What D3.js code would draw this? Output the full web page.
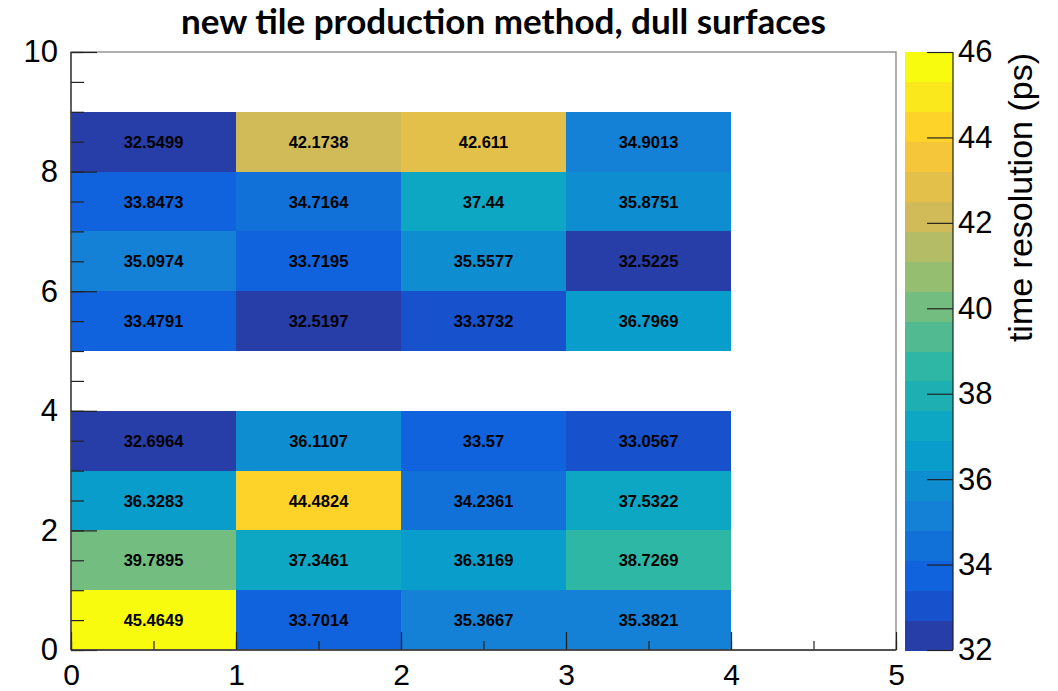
<!DOCTYPE html>
<html>
<head>
<meta charset="utf-8">
<script src="https://cdn.jsdelivr.net/npm/d3@7"></script>
<style>
  html, body { margin: 0; padding: 0; background: #fff; }
  svg { display: block; }
</style>
</head>
<body>
<svg id="chart" width="1058" height="691"></svg>
<script>
// Bin edges along each axis
const xEdges = [0, 1, 2, 3, 4];
const yEdges = [0, 1, 2, 3, 5, 6, 7, 8];

// Time resolution (ps) per tile, one row per y bin (lower edge above)
const row0 = [45.4649, 33.7014, 35.3667, 35.3821];
const row1 = [39.7895, 37.3461, 36.3169, 38.7269];
const row2 = [36.3283, 44.4824, 34.2361, 37.5322];
const row3 = [32.6964, 36.1107, 33.57, 33.0567];
const row5 = [33.4791, 32.5197, 33.3732, 36.7969];
const row6 = [35.0974, 33.7195, 35.5577, 32.5225];
const row7 = [33.8473, 34.7164, 37.44, 35.8751];
const row8 = [32.5499, 42.1738, 42.611, 34.9013];
const rows = [row0, row1, row2, row3, row5, row6, row7, row8];

// Axis ticks
const xTicks = [0, 1, 2, 3, 4, 5];
const yTicks = [0, 2, 4, 6, 8, 10];
const zTicks = [32, 34, 36, 38, 40, 42, 44, 46];

// Colour scale range and number of contour bands
const zRange = [32, 46];
const nBands = 20;

// Bird palette stops
const birdStops = [0, 0.125, 0.25, 0.375, 0.5, 0.625, 0.75, 0.875, 1];
const birdR = [0.2082, 0.0592, 0.0780, 0.0232, 0.1802, 0.5301, 0.8186, 0.9956, 0.9764];
const birdG = [0.1664, 0.3599, 0.5041, 0.6419, 0.7178, 0.7492, 0.7328, 0.7862, 0.9832];
const birdB = [0.5293, 0.8684, 0.8385, 0.7914, 0.6425, 0.4662, 0.3499, 0.1968, 0.0539];

const palR = d3.scaleLinear().domain(birdStops).range(birdR);
const palG = d3.scaleLinear().domain(birdStops).range(birdG);
const palB = d3.scaleLinear().domain(birdStops).range(birdB);
const nColors = 255;
function bandColor(i) {
  const k = Math.floor((i + 0.99) * nColors / nBands);
  const t = k / (nColors - 1);
  return d3.rgb(palR(t) * 255, palG(t) * 255, palB(t) * 255).formatHex();
}
const bandWidth = (zRange[1] - zRange[0]) / nBands;
function colorOf(v) {
  let i = Math.floor((v - zRange[0]) / bandWidth + 0.0001);
  i = Math.max(0, Math.min(nBands - 1, i));
  return bandColor(i);
}

const svg = d3.select("#chart");
const plotLeft = 71, plotRight = 896, plotTop = 52, plotBottom = 650;

const x = d3.scaleLinear().domain([0, 5]).range([plotLeft, plotRight]);
const y = d3.scaleLinear().domain([0, 10]).range([plotBottom, plotTop]);

// Cells
const cells = [];
rows.forEach((r, j) => r.forEach((v, i) => cells.push({ x0: xEdges[i], y0: yEdges[j], v })));

const g = svg.append("g");
g.selectAll("rect.cell").data(cells).enter().append("rect")
  .attr("class", "cell")
  .attr("x", d => x(d.x0))
  .attr("y", d => y(d.y0 + 1))
  .attr("width", d => x(d.x0 + 1) - x(d.x0))
  .attr("height", d => y(d.y0) - y(d.y0 + 1))
  .attr("fill", d => colorOf(d.v))
  .attr("shape-rendering", "crispEdges");

g.selectAll("text.val").data(cells).enter().append("text")
  .attr("class", "val")
  .attr("x", d => x(d.x0 + 0.5))
  .attr("y", d => y(d.y0 + 0.5))
  .attr("text-anchor", "middle")
  .attr("dominant-baseline", "central")
  .attr("font-family", "'Liberation Sans', Arial, sans-serif")
  .attr("font-weight", "bold")
  .attr("font-size", 16.5)
  .attr("fill", "#000")
  .text(d => d.v);

// Frame (top / right)
svg.append("rect")
  .attr("x", plotLeft).attr("y", plotTop)
  .attr("width", plotRight - plotLeft).attr("height", plotBottom - plotTop)
  .attr("fill", "none").attr("stroke", "#7a7a7a").attr("stroke-width", 1.2);

const axisFont = "'Liberation Sans', Arial, sans-serif";
function styleAxis(sel, size) {
  sel.select(".domain").remove();
  sel.selectAll(".tick line").attr("stroke", "#222").attr("stroke-width", 1.2);
  sel.selectAll("text").attr("font-family", axisFont).attr("font-size", size).attr("fill", "#000");
}

// Y axis: minor and major ticks pointing inward
const yMinor = svg.append("g").attr("transform", `translate(${plotLeft},0)`)
  .call(d3.axisLeft(y).tickValues(d3.range(0, 10.01, 0.5)).tickSize(-13).tickFormat(""));
styleAxis(yMinor, 0);
const yMajor = svg.append("g").attr("transform", `translate(${plotLeft},0)`)
  .call(d3.axisLeft(y).tickValues(yTicks).tickSize(-26).tickPadding(13).tickFormat(d3.format("d")));
styleAxis(yMajor, 31);

// X axis
const xMinor = svg.append("g").attr("transform", `translate(0,${plotBottom})`)
  .call(d3.axisBottom(x).tickValues(d3.range(0, 5.01, 0.5)).tickSize(-9).tickFormat(""));
styleAxis(xMinor, 0);
const xMajor = svg.append("g").attr("transform", `translate(0,${plotBottom})`)
  .call(d3.axisBottom(x).tickValues(xTicks).tickSize(-18).tickPadding(14).tickFormat(d3.format("d")));
styleAxis(xMajor, 30);

// Axis lines on left and bottom
svg.append("line").attr("x1", plotLeft).attr("x2", plotLeft).attr("y1", plotTop).attr("y2", plotBottom)
  .attr("stroke", "#333").attr("stroke-width", 1.3);
svg.append("line").attr("x1", plotLeft).attr("x2", plotRight).attr("y1", plotBottom).attr("y2", plotBottom)
  .attr("stroke", "#333").attr("stroke-width", 1.3);

// Colour bar
const cbLeft = 905, cbRight = 953;
const z = d3.scaleLinear().domain(zRange).range([plotBottom, plotTop]);
const bands = d3.range(nBands);
svg.append("g").selectAll("rect").data(bands).enter().append("rect")
  .attr("x", cbLeft)
  .attr("y", i => z(zRange[0] + (i + 1) * bandWidth))
  .attr("width", cbRight - cbLeft)
  .attr("height", i => z(zRange[0] + i * bandWidth) - z(zRange[0] + (i + 1) * bandWidth) + 0.5)
  .attr("fill", i => bandColor(i))
  .attr("shape-rendering", "crispEdges");

const zAxis = svg.append("g").attr("transform", `translate(${cbRight},0)`)
  .call(d3.axisRight(z).tickValues(zTicks).tickSize(-26).tickPadding(5).tickFormat(d3.format("d")));
styleAxis(zAxis, 31);
svg.append("line").attr("x1", cbRight).attr("x2", cbRight).attr("y1", plotTop).attr("y2", plotBottom)
  .attr("stroke", "#222").attr("stroke-width", 1.2);

// Colour bar title
svg.append("text")
  .attr("transform", `translate(1032,${plotTop + 1}) rotate(-90)`)
  .attr("text-anchor", "end")
  .attr("font-family", axisFont)
  .attr("font-size", 34)
  .attr("fill", "#000")
  .text("time resolution (ps)");

// Title
const title = svg.append("text")
  .attr("x", 503.5).attr("y", 34)
  .attr("text-anchor", "middle")
  .attr("font-family", "Lato, 'Open Sans', sans-serif")
  .attr("font-weight", "bold")
  .attr("font-size", 30)
  .attr("fill", "#000")
  .text("new tile production method, dull surfaces");
const tw = title.node().getComputedTextLength();
title.attr("font-size", 30 * 645 / tw);
</script>
</body>
</html>
